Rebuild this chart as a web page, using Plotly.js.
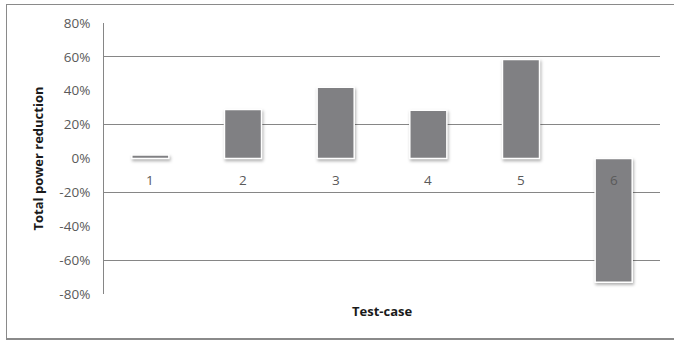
<!DOCTYPE html>
<html>
<head>
<meta charset="utf-8">
<script src="https://cdn.plot.ly/plotly-3.0.1.min.js"></script>
<style>
  html, body { margin: 0; padding: 0; background: #fff; }
  #wrap { position: relative; width: 674px; height: 340px; overflow: hidden; }
  #chart { width: 674px; height: 340px; }
  #frame {
    position: absolute; left: 6px; top: 4px; width: 680px; height: 333px;
    border-top: 1px solid #8a8a8a; border-left: 1px solid #8a8a8a;
    border-bottom: 2px solid #8a8a8a; pointer-events: none;
  }
  .barlayer .point path { filter: drop-shadow(1px 2px 1.5px rgba(0,0,0,0.3)); }
</style>
</head>
<body>
<div id="wrap">
  <div id="chart"></div>
  <div id="frame"></div>
</div>
<script>
// Power reduction per test case
const testCases = ['1', '2', '3', '4', '5', '6'];
const powerReduction = [0.02, 0.29, 0.42, 0.285, 0.585, -0.73];

// Y axis ticks (every 20%) and the lighter set of gridlines
const yTickVals = [-0.8, -0.6, -0.4, -0.2, 0, 0.2, 0.4, 0.6, 0.8];
const yTickText = ['-80%', '-60%', '-40%', '-20%', '0%', '20%', '40%', '60%', '80%'];
const gridVals = [-0.6, -0.2, 0.2, 0.6];

const tickFont = { family: 'Open Sans, sans-serif', size: 13.5, color: '#5a5a5a' };
const titleFont = { family: 'Open Sans, sans-serif', size: 13, color: '#1a1a1a', weight: 'bold' };

const bars = {
  type: 'bar',
  x: testCases,
  y: powerReduction,
  width: 0.4,
  marker: { color: '#808083', line: { color: '#ffffff', width: 1.5 } },
  hoverinfo: 'x+y'
};

// Category labels sit just under the zero line (x given as category index)
const catLabels = testCases.map((c, i) => ({
  x: i, y: 0, xref: 'x', yref: 'y',
  text: c, showarrow: false, yanchor: 'top', yshift: -10,
  font: tickFont
}));

const layout = {
  width: 674, height: 340,
  margin: { l: 104, r: 14, t: 23, b: 46 },
  paper_bgcolor: '#ffffff', plot_bgcolor: '#ffffff',
  showlegend: false,
  xaxis: {
    type: 'category', categoryarray: testCases, range: [-0.5, testCases.length - 0.5],
    showticklabels: false, ticks: '', showgrid: false, zeroline: false, showline: false
  },
  yaxis: {
    range: [-0.8, 0.8],
    tickvals: yTickVals, ticktext: yTickText,
    tickfont: tickFont, ticks: '', ticklabelstandoff: 10,
    showgrid: false, zeroline: false,
    showline: true, linecolor: '#868686', linewidth: 1,
    title: { text: 'Total power reduction', font: titleFont, standoff: 12 }
  },
  yaxis2: {
    range: [-0.8, 0.8], overlaying: 'y',
    tickvals: gridVals, showticklabels: false, ticks: '',
    showgrid: true, gridcolor: '#868686', gridwidth: 1, zeroline: false
  },
  annotations: catLabels.concat([{
    x: 0.5, y: 0, xref: 'paper', yref: 'paper',
    text: 'Test-case', showarrow: false, yanchor: 'top', yshift: -6,
    font: titleFont
  }])
};

// an invisible trace binds the gridline axis
const gridTrace = { type: 'scatter', x: [testCases[0]], y: [0], yaxis: 'y2', mode: 'none', hoverinfo: 'skip' };

Plotly.newPlot('chart', [gridTrace, bars], layout, { displayModeBar: false, staticPlot: true });
</script>
</body>
</html>
